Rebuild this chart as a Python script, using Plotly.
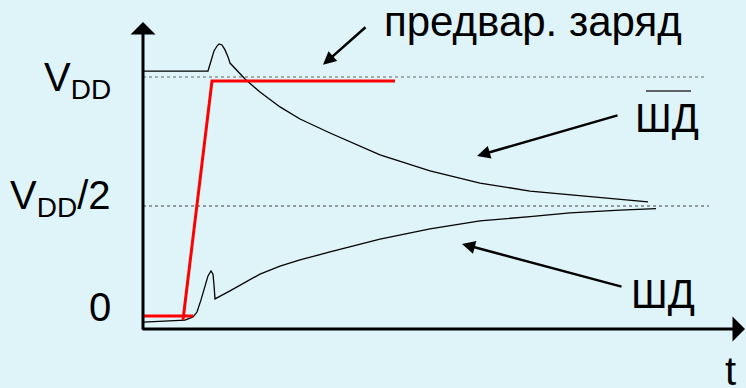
import plotly.graph_objects as go

# time axis in arbitrary units, voltage in units of VDD
upper_t = [0, 1.30, 1.36, 1.42, 1.48, 1.52, 1.58, 1.64, 1.70, 1.74, 2.04, 2.34, 2.74, 3.14,
           3.74, 4.74, 5.74, 6.74, 7.74, 8.54, 9.54, 10.10]
upper_v = [1.023, 1.023, 1.062, 1.101, 1.120, 1.128, 1.124, 1.105, 1.078, 1.054, 0.992, 0.942,
           0.884, 0.837, 0.783, 0.698, 0.636, 0.589, 0.558, 0.543, 0.525, 0.516]

lower_t = [0, 0.84, 1.00, 1.08, 1.16, 1.24, 1.30, 1.36, 1.40, 1.42, 1.43, 1.44, 1.74, 2.04,
           2.34, 2.74, 3.14, 3.74, 4.74, 5.74, 6.74, 7.74, 8.54, 9.54, 10.26]
lower_v = [0.050, 0.058, 0.070, 0.089, 0.136, 0.186, 0.229, 0.248, 0.236, 0.194, 0.143, 0.140,
           0.171, 0.205, 0.236, 0.267, 0.291, 0.322, 0.372, 0.411, 0.442, 0.459, 0.473, 0.484, 0.490]

wl_low_t = [0, 1.00]
wl_low_v = [0.074, 0.074]
wl_rise_t = [0.80, 1.38, 5.04]
wl_rise_v = [0.058, 0.984, 0.984]

vdd_line_t = [0, 11.26]
vdd_line_v = [1.0, 1.0]
half_line_t = [0, 11.32]
half_line_v = [0.5, 0.5]

BG = "#dff4f9"
FONT = "Liberation Sans, Arial, sans-serif"
FS = 40

fig = go.Figure()
fig.add_trace(go.Scatter(x=vdd_line_t, y=vdd_line_v, mode="lines",
                         line=dict(color="#666666", width=1, dash="dot"), hoverinfo="skip"))
fig.add_trace(go.Scatter(x=half_line_t, y=half_line_v, mode="lines",
                         line=dict(color="#444444", width=1, dash="dot"), hoverinfo="skip"))
fig.add_trace(go.Scatter(x=upper_t, y=upper_v, mode="lines", line=dict(color="black", width=1.3)))
fig.add_trace(go.Scatter(x=lower_t, y=lower_v, mode="lines", line=dict(color="black", width=1.3)))
fig.add_trace(go.Scatter(x=wl_low_t, y=wl_low_v, mode="lines", line=dict(color="#ff0000", width=3)))
fig.add_trace(go.Scatter(x=wl_rise_t, y=wl_rise_v, mode="lines", line=dict(color="#ff0000", width=3)))

ann = []
def arrow(x, y, ax, ay, head, w, size):
    ann.append(dict(x=x, y=y, ax=ax, ay=ay, xref="x", yref="y", axref="x", ayref="y",
                    text="", showarrow=True, arrowhead=head, arrowwidth=w, arrowsize=size,
                    arrowcolor="black", standoff=0))

# axes
arrow(0, 1.213, 0, 0.0155, 1, 3, 1.39)
arrow(12.04, 0.0233, -0.04, 0.0233, 1, 3, 1.39)
# pointers
arrow(3.6, 1.047, 4.48, 1.198, 2, 2.5, 1.05)
arrow(6.68, 0.694, 9.52, 0.853, 2, 2.5, 1.05)
arrow(6.38, 0.353, 9.6, 0.186, 2, 2.5, 1.05)

def label(x, y, text, xanchor="right", yanchor="middle", size=FS):
    ann.append(dict(x=x, y=y, xref="x", yref="y", text=text, showarrow=False,
                    xanchor=xanchor, yanchor=yanchor, font=dict(family=FONT, size=size, color="black")))

label(-0.6, 0.99, "V<sub>DD</sub>")
label(-0.6, 0.53, "V<sub>DD</sub>/2")
label(-0.6, 0.11, "0")
label(11.74, -0.139, "t", xanchor="center")
label(4.78, 1.217, "предвар. заряд", xanchor="left", size=42)
label(9.80, 0.843, "ШД", xanchor="left")
label(9.72, 0.159, "ШД", xanchor="left")

fig.update_layout(
    width=746, height=388, margin=dict(l=0, r=0, t=0, b=0),
    paper_bgcolor=BG, plot_bgcolor=BG, showlegend=False,
    xaxis=dict(range=[-2.86, 12.06], visible=False, fixedrange=True),
    yaxis=dict(range=[-0.2054, 1.2984], visible=False, fixedrange=True),
    annotations=ann,
    shapes=[dict(type="line", xref="x", yref="y", x0=10.06, x1=10.96, y0=0.946, y1=0.946,
                 line=dict(color="#333333", width=1.5))],
)
fig.write_html("out.html", config={"displayModeBar": False},
               post_script="document.body.style.margin='0';document.body.style.overflow='hidden';"
                           "document.body.style.background='" + BG + "';")
